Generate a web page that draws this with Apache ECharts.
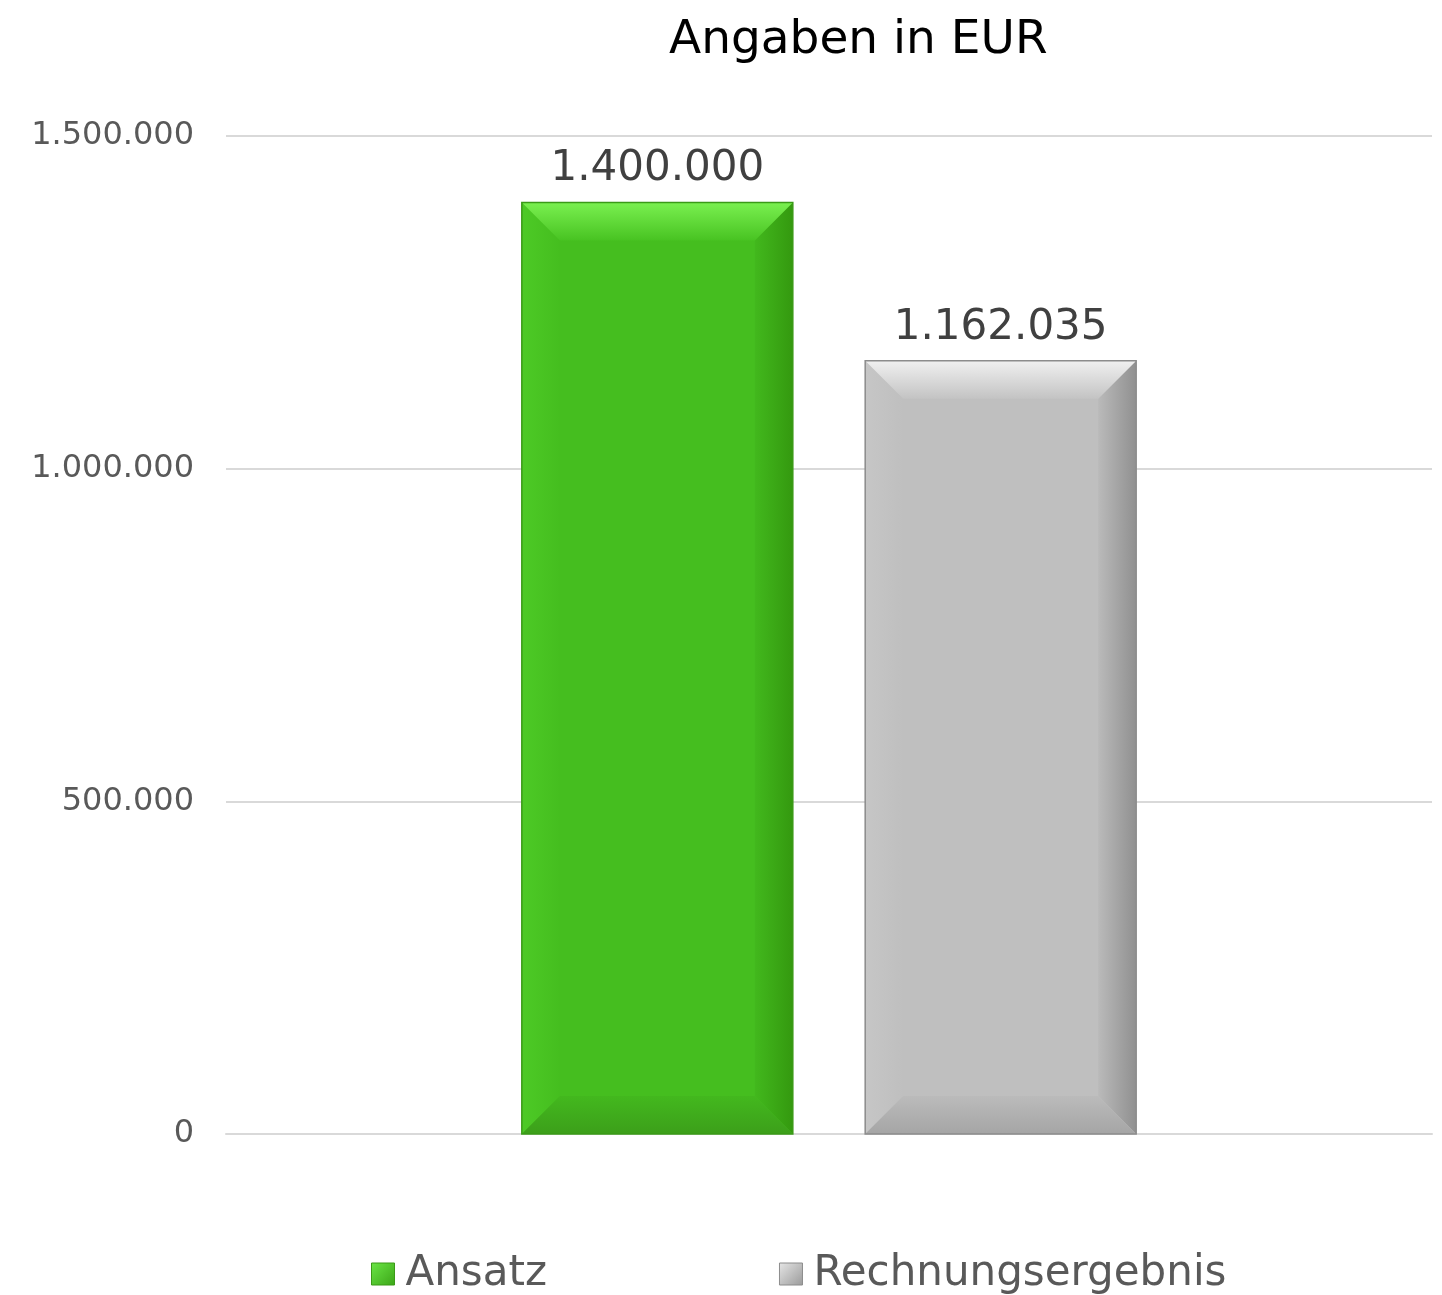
<!DOCTYPE html>
<html>
<head>
<meta charset="utf-8">
<script src="https://cdn.jsdelivr.net/npm/echarts@6/dist/echarts.min.js"></script>
<style>
  html, body { margin: 0; padding: 0; background: #fff; }
  #main { width: 1442px; height: 1295px; }
</style>
</head>
<body>
<div id="main"></div>
<script>
// chart data
var categories = ['Angaben in EUR'];
var seriesNames = ['Ansatz', 'Rechnungsergebnis'];
var ansatzValues = [1400000];
var ergebnisValues = [1162035];
var yTicks = [0, 500000, 1000000, 1500000];

function fmt(v) {
  return String(Math.round(v)).replace(/\B(?=(\d{3})+(?!\d))/g, '.');
}

// bevel colours per series
var palettes = [{
  main: '#45be1f', topA: '#7af050', topB: '#48c322', left: '#4dca26',
  rightA: '#42b81d', rightB: '#34990f', bottomA: '#43b81e', bottomB: '#3c9f1a', border: '#3a9a17',
  legend: ['#6be646', '#3ba517']
}, {
  main: '#bfbfbf', topA: '#f0f0f0', topB: '#c3c3c3', left: '#c6c6c6',
  rightA: '#bababa', rightB: '#909090', bottomA: '#bbbbbb', bottomB: '#a5a5a5', border: '#8c8c8c',
  legend: ['#e6e6e6', '#9a9a9a']
}];

function bevelBar(idx) {
  var p = palettes[idx];
  return function (params, api) {
    var band = api.size([1, 0])[0];
    var w = band * 0.2247;
    var gap = band * 0.06;
    var c = api.coord([api.value(0), api.value(1)]);
    var base = api.coord([api.value(0), 0]);
    var cx = c[0] + (idx === 0 ? -1 : 1) * (w / 2 + gap / 2);
    var x0 = cx - w / 2, x1 = cx + w / 2, y0 = c[1], y1 = base[1];
    var b = 38;
    var lin = function (x, y, x2, y2, a, z) {
      return new echarts.graphic.LinearGradient(x, y, x2, y2, [
        { offset: 0, color: a }, { offset: 1, color: z }]);
    };
    return {
      type: 'group',
      children: [
        { type: 'rect', shape: { x: x0, y: y0, width: w, height: y1 - y0 },
          style: { fill: p.main } },
        { type: 'polygon', shape: { points: [[x0, y0], [x0 + b, y0 + b], [x0 + b, y1 - b], [x0, y1]] },
          style: { fill: lin(0, 0, 1, 0, p.left, p.main) } },
        { type: 'polygon', shape: { points: [[x1, y0], [x1 - b, y0 + b], [x1 - b, y1 - b], [x1, y1]] },
          style: { fill: lin(0, 0, 1, 0, p.rightA, p.rightB) } },
        { type: 'polygon', shape: { points: [[x0, y1], [x0 + b, y1 - b], [x1 - b, y1 - b], [x1, y1]] },
          style: { fill: lin(0, 0, 0, 1, p.bottomA, p.bottomB) } },
        { type: 'polygon', shape: { points: [[x0, y0], [x1, y0], [x1 - b, y0 + b], [x0 + b, y0 + b]] },
          style: { fill: lin(0, 0, 0, 1, p.topA, p.topB) } },
        { type: 'rect', shape: { x: x0, y: y0, width: w, height: y1 - y0 },
          style: { fill: 'none', stroke: p.border, lineWidth: 1.5 } },
        { type: 'text', x: cx, y: y0 - 12,
          style: { text: fmt(api.value(1)), fontSize: 42, fill: '#404040',
            fontFamily: 'DejaVu Sans', align: 'center', verticalAlign: 'bottom' } }
      ]
    };
  };
}

var chart = echarts.init(document.getElementById('main'), null, { renderer: 'canvas' });

var option = {
  backgroundColor: '#fff',
  animation: false,
  title: {
    text: 'Angaben in EUR',
    left: 664,
    top: 12,
    textStyle: { fontFamily: 'DejaVu Sans', fontSize: 47, fontWeight: 'normal', color: '#000' }
  },
  legend: {
    left: 366,
    top: 1248,
    itemWidth: 23,
    itemHeight: 22,
    itemGap: 232,
    icon: 'rect',
    textStyle: { fontFamily: 'DejaVu Sans', fontSize: 42, color: '#595959', padding: [0, 0, 0, 6] },
    data: seriesNames.map(function (n, i) {
      return {
        name: n,
        itemStyle: {
          color: new echarts.graphic.LinearGradient(0, 0, 1, 1, [
            { offset: 0, color: palettes[i].legend[0] }, { offset: 1, color: palettes[i].legend[1] }]),
          borderColor: palettes[i].border, borderWidth: 1
        }
      };
    })
  },
  grid: { left: 226, right: 10, top: 136, bottom: 161, containLabel: false },
  xAxis: {
    type: 'category',
    data: categories,
    axisLine: { show: true, lineStyle: { color: '#d9d9d9', width: 2 } },
    axisTick: { show: false },
    axisLabel: { show: false }
  },
  yAxis: {
    type: 'value',
    min: yTicks[0],
    max: yTicks[yTicks.length - 1],
    interval: yTicks[1] - yTicks[0],
    axisLine: { show: false },
    axisTick: { show: false },
    splitLine: { lineStyle: { color: '#d9d9d9', width: 2 } },
    axisLabel: {
      formatter: function (v) { return fmt(v); },
      fontFamily: 'DejaVu Sans', fontSize: 32, color: '#595959', margin: 32
    }
  },
  series: [{
    name: seriesNames[0],
    type: 'custom',
    itemStyle: { color: palettes[0].main },
    renderItem: bevelBar(0),
    encode: { x: 0, y: 1 },
    data: categories.map(function (c, i) { return [i, ansatzValues[i]]; })
  }, {
    name: seriesNames[1],
    type: 'custom',
    itemStyle: { color: palettes[1].main },
    renderItem: bevelBar(1),
    encode: { x: 0, y: 1 },
    data: categories.map(function (c, i) { return [i, ergebnisValues[i]]; })
  }]
};

chart.setOption(option);
</script>
</body>
</html>
